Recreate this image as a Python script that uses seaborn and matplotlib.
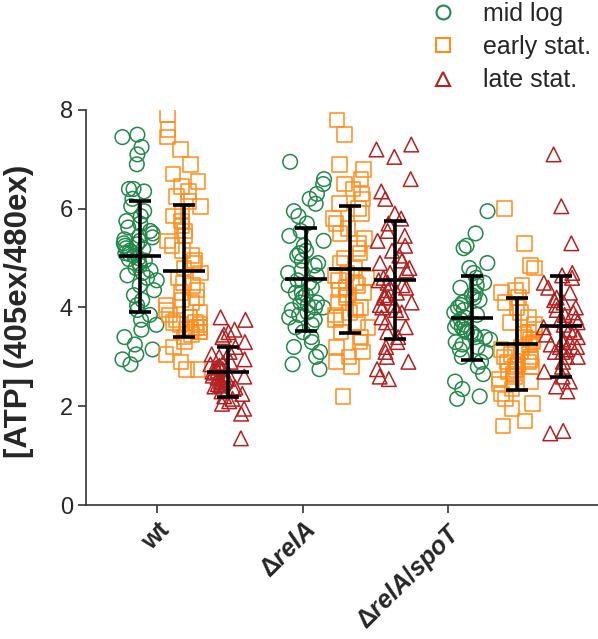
import numpy as np
import pandas as pd
import matplotlib.pyplot as plt
from matplotlib.lines import Line2D
import seaborn as sns

strains = ["wt", "ΔrelA", "ΔrelA/spoT"]
tick_labels = ["wt", r"Δ$\it{relA}$", r"Δ$\it{relA/spoT}$"]
phases = ["mid log", "early stat.", "late stat."]
colors = ["#23884a", "#ff8c1a", "#b41f1f"]
markers = ["o", "s", "^"]

# ATP ratio per cell
wt_mid = [7.50, 7.45, 7.25, 7.10, 6.90, 6.40, 6.40, 6.35, 6.20, 6.05, 5.95, 5.85,
          5.75, 5.70, 5.62, 5.55, 5.50, 5.45, 5.42, 5.38, 5.35, 5.30, 5.28, 5.25,
          5.20, 5.18, 5.15, 5.10, 5.08, 5.05, 5.00, 4.98, 4.95, 4.90, 4.85, 4.80,
          4.75, 4.70, 4.65, 4.60, 4.55, 4.45, 4.35, 4.25, 4.15, 4.05, 3.95, 3.85,
          3.75, 3.65, 3.55, 3.40, 3.25, 3.15, 3.05, 2.95, 2.85]
wt_early = [7.90, 7.60, 7.45, 7.20, 6.90, 6.70, 6.55, 6.45, 6.35, 6.25, 6.15, 6.05,
            5.95, 5.85, 5.75, 5.65, 5.55, 5.45, 5.35, 5.25, 5.15, 5.05, 4.95, 4.90,
            4.80, 4.70, 4.60, 4.50, 4.45, 4.35, 4.30, 4.20, 4.15, 4.10, 4.05, 3.95,
            3.90, 3.85, 3.80, 3.75, 3.70, 3.65, 3.60, 3.55, 3.50, 3.45, 3.40, 3.30,
            3.20, 3.05, 2.90, 2.75, 2.75, 3.55, 3.60, 3.50, 3.65, 3.70]
wt_late = [3.80, 3.75, 3.55, 3.50, 3.45, 3.40, 3.30, 3.20, 3.10, 3.05, 3.00, 2.95,
           2.90, 2.88, 2.85, 2.82, 2.80, 2.78, 2.75, 2.72, 2.70, 2.68, 2.65, 2.62,
           2.60, 2.58, 2.55, 2.52, 2.50, 2.48, 2.45, 2.42, 2.40, 2.38, 2.35, 2.30,
           2.25, 2.20, 2.15, 2.10, 2.05, 1.95, 1.85, 1.35]
rela_mid = [6.95, 6.60, 6.50, 6.30, 6.20, 6.10, 5.95, 5.85, 5.70, 5.55, 5.45, 5.35,
            5.25, 5.15, 5.10, 5.05, 4.95, 4.90, 4.85, 4.75, 4.70, 4.65, 4.55, 4.50,
            4.45, 4.40, 4.30, 4.25, 4.20, 4.10, 4.05, 4.00, 3.95, 3.85, 3.80, 3.75,
            3.65, 3.60, 3.50, 3.40, 3.30, 3.20, 3.10, 3.00, 2.85, 2.75, 4.00, 4.10,
            3.90, 4.30]
rela_early = [7.80, 7.50, 6.90, 6.80, 6.60, 6.50, 6.40, 6.30, 6.20, 6.10, 6.00, 5.90,
              5.80, 5.70, 5.60, 5.50, 5.40, 5.30, 5.20, 5.10, 5.00, 4.90, 4.80, 4.70,
              4.60, 4.50, 4.40, 4.30, 4.20, 4.10, 4.00, 3.90, 3.80, 3.70, 3.60, 3.50,
              3.40, 3.30, 3.20, 3.10, 3.00, 2.90, 2.80, 2.20, 4.55, 4.65, 4.35, 4.25,
              3.95, 3.85, 4.45, 3.75]
rela_late = [7.30, 7.20, 7.05, 6.60, 6.35, 6.20, 5.90, 5.80, 5.70, 5.55, 5.45, 5.35,
             5.25, 5.15, 5.05, 4.95, 4.90, 4.80, 4.75, 4.70, 4.60, 4.55, 4.50, 4.45,
             4.40, 4.35, 4.25, 4.20, 4.10, 4.05, 4.00, 3.90, 3.80, 3.70, 3.60, 3.50,
             3.40, 3.30, 3.20, 3.10, 3.00, 2.90, 2.75, 2.60, 2.55, 4.20, 4.30, 3.95,
             4.05]
spot_mid = [5.95, 5.50, 5.25, 5.20, 4.90, 4.80, 4.70, 4.60, 4.50, 4.45, 4.40, 4.30,
            4.25, 4.20, 4.15, 4.10, 4.05, 4.00, 3.95, 3.90, 3.85, 3.80, 3.75, 3.70,
            3.65, 3.60, 3.55, 3.50, 3.45, 3.40, 3.35, 3.30, 3.25, 3.20, 3.15, 3.10,
            3.00, 2.90, 2.80, 2.65, 2.50, 2.35, 2.20, 2.15, 3.60, 3.50, 3.40]
spot_early = [6.00, 5.30, 4.85, 4.80, 4.45, 4.35, 4.30, 4.20, 4.10, 4.00, 3.90, 3.80,
              3.70, 3.65, 3.55, 3.50, 3.45, 3.40, 3.35, 3.30, 3.25, 3.20, 3.15, 3.10,
              3.05, 3.00, 2.95, 2.90, 2.85, 2.80, 2.75, 2.70, 2.65, 2.60, 2.55, 2.50,
              2.45, 2.35, 2.25, 2.15, 2.05, 1.95, 1.70, 1.60, 2.90, 3.00, 2.80]
spot_late = [7.10, 6.05, 5.30, 4.70, 4.65, 4.60, 4.50, 4.40, 4.30, 4.20, 4.15, 4.10,
             4.05, 4.00, 3.95, 3.90, 3.85, 3.80, 3.75, 3.70, 3.65, 3.60, 3.55, 3.50,
             3.45, 3.40, 3.35, 3.30, 3.25, 3.20, 3.15, 3.10, 3.00, 2.90, 2.80, 2.70,
             2.60, 2.50, 2.40, 2.30, 1.50, 1.45, 3.30, 3.20, 3.10, 3.00]

groups = [
    ("wt", "mid log", wt_mid), ("wt", "early stat.", wt_early), ("wt", "late stat.", wt_late),
    ("ΔrelA", "mid log", rela_mid), ("ΔrelA", "early stat.", rela_early), ("ΔrelA", "late stat.", rela_late),
    ("ΔrelA/spoT", "mid log", spot_mid), ("ΔrelA/spoT", "early stat.", spot_early),
    ("ΔrelA/spoT", "late stat.", spot_late),
]
rows = []
for strain, phase, vals in groups:
    for v in vals:
        rows.append({"strain": strain, "phase": phase, "atp": v})
df = pd.DataFrame(rows)

sns.set_style("ticks")
plt.rcParams["font.family"] = ["Liberation Sans", "DejaVu Sans"]
plt.rcParams["mathtext.fontset"] = "custom"
plt.rcParams["mathtext.rm"] = "Liberation Sans:bold"
plt.rcParams["mathtext.it"] = "Liberation Sans:bold:italic"

fig = plt.figure(figsize=(5.98, 6.39), dpi=100)
ax = fig.add_axes([0.1438, 0.2097, 0.8562, 0.6182])

palette = dict(zip(phases, colors))
np.random.seed(2)
for phase, marker, color in zip(phases, markers, colors):
    n0 = len(ax.collections)
    sns.stripplot(data=df[df.phase == phase], x="strain", y="atp", hue="phase",
                  order=strains, hue_order=phases, palette=palette, dodge=True,
                  jitter=0.33, marker=marker, size=10.5, linewidth=1.1,
                  legend=False, ax=ax)
    for coll in ax.collections[n0:]:
        coll.set_facecolor("none")
        coll.set_edgecolor(color)

# mean +/- SD, at the same dodged slots seaborn uses for the strips
stats = df.groupby(["strain", "phase"])["atp"].agg(["mean", "std"])
slot = 0.8 / len(phases)
for i, strain in enumerate(strains):
    for j, phase in enumerate(phases):
        m, s = stats.loc[(strain, phase)]
        xpos = i + (j - 1) * slot
        ax.errorbar(xpos, m, yerr=s, fmt="none", ecolor="black", elinewidth=2.6,
                    capsize=8, capthick=2.6, zorder=5)
        ax.plot(xpos, m, marker="_", markersize=30, markeredgewidth=2.6,
                color="black", linestyle="none", zorder=5)

ax.set_xlim(-0.59, 2.49)
ax.set_ylim(0, 8)
ax.set_yticks([0, 2, 4, 6, 8])
ax.set_xticks([-0.16, 0.715, 1.59], tick_labels, rotation=45, ha="right",
              rotation_mode="anchor", fontsize=18, fontweight="bold")
ax.tick_params(axis="y", labelsize=17, length=6, width=1.2, color="#333333")
ax.tick_params(axis="x", length=6, width=1.2, color="#333333")
ax.set_xlabel("")
ax.set_ylabel("[ATP] (405ex/480ex)", fontsize=22.5, fontweight="bold")
ax.yaxis.set_label_coords(-0.102, 0.49)
for side in ["left", "bottom"]:
    ax.spines[side].set_linewidth(1.2)
    ax.spines[side].set_color("#333333")
sns.despine(ax=ax)

handles = [Line2D([], [], marker=m, linestyle="none", markerfacecolor="none",
                  markeredgecolor=c, markersize=10, markeredgewidth=1.5)
           for m, c in zip(markers, colors)]
fig.legend(handles, phases, loc="upper left", bbox_to_anchor=(0.72, 0.997),
           frameon=False, fontsize=18, borderpad=0, borderaxespad=0,
           handlelength=1.0, handletextpad=1.1, labelspacing=0.37)

fig.savefig("out.png", dpi=100)
